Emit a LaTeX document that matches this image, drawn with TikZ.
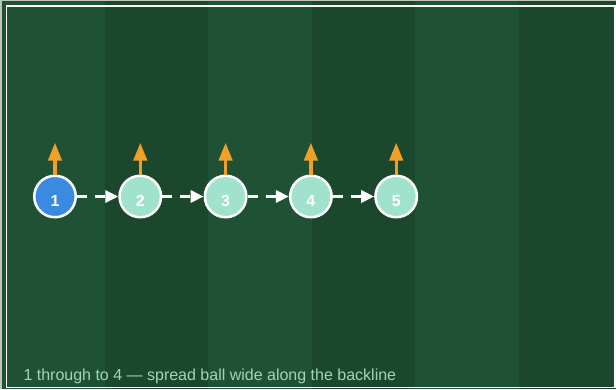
\documentclass[tikz,border=0pt]{standalone}
\usepackage{fontspec}
\setmainfont{Liberation Sans}
\usetikzlibrary{arrows.meta}
\definecolor{stripelight}{RGB}{31,82,53}
\definecolor{stripedark}{RGB}{27,72,45}
\definecolor{edgegrey}{RGB}{196,196,186}
\definecolor{ballblue}{RGB}{58,138,224}
\definecolor{mint}{RGB}{160,226,204}
\definecolor{runorange}{RGB}{240,160,40}
\definecolor{captionmint}{RGB}{160,212,188}
\newcommand{\plnum}[1]{\raisebox{-9.5pt}[0pt][0pt]{#1}}
\tikzset{
  player/.style={circle,draw=white,line width=2.5pt,minimum size=41.5pt,inner sep=0pt,
    text=white,font=\fontsize{16}{19}\selectfont\bfseries},
  carrier/.style={player,fill=ballblue},
  support/.style={player,fill=mint},
  runarrow/.style={draw=runorange,line width=3.3pt,-{Triangle[length=18pt,width=13.4pt]}},
  passarrow/.style={draw=white,line width=3.5pt,dash pattern=on 10pt off 8pt,
    -{Triangle[length=13pt,width=12pt]}},
  caption/.style={text=captionmint,font=\fontsize{16}{19}\selectfont,inner sep=0pt,anchor=base west}
}
\begin{document}
\begin{tikzpicture}[x=1pt,y=-1pt]
\useasboundingbox (0,0) rectangle (616,389);
\fill[edgegrey] (0,0) rectangle (616,389);
\fill[stripelight] (2,1) rectangle (105,388.5);
\fill[stripedark] (105,1) rectangle (208,388.5);
\fill[stripelight] (208,1) rectangle (312,388.5);
\fill[stripedark] (312,1) rectangle (415,388.5);
\fill[stripelight] (415,1) rectangle (519,388.5);
\fill[stripedark] (519,1) rectangle (615.5,388.5);
\draw[white,line width=1.5pt] (6.5,5.75) rectangle (615,387.25);
% players
\node[carrier] (p1) at (55,196.5) {\plnum{1}};
\node[support] (p2) at (140.3,196.5) {\plnum{2}};
\node[support] (p3) at (225.6,196.5) {\plnum{3}};
\node[support] (p4) at (310.9,196.5) {\plnum{4}};
\node[support] (p5) at (396.2,196.5) {\plnum{5}};
% run targets
\coordinate (u1) at (55,142.7);
\coordinate (u2) at (140.3,142.7);
\coordinate (u3) at (225.6,142.7);
\coordinate (u4) at (310.9,142.7);
\coordinate (u5) at (396.2,142.7);
\draw[runarrow] (p1.north) -- (u1);
\draw[runarrow] (p2.north) -- (u2);
\draw[runarrow] (p3.north) -- (u3);
\draw[runarrow] (p4.north) -- (u4);
\draw[runarrow] (p5.north) -- (u5);
% passes
\draw[passarrow] (p1) -- (p2);
\draw[passarrow] (p2) -- (p3);
\draw[passarrow] (p3) -- (p4);
\draw[passarrow] (p4) -- (p5);
\node[caption] (cap) at (23.3,380.7) {1 through to 4 — spread ball wide along the backline};
\end{tikzpicture}
\end{document}
